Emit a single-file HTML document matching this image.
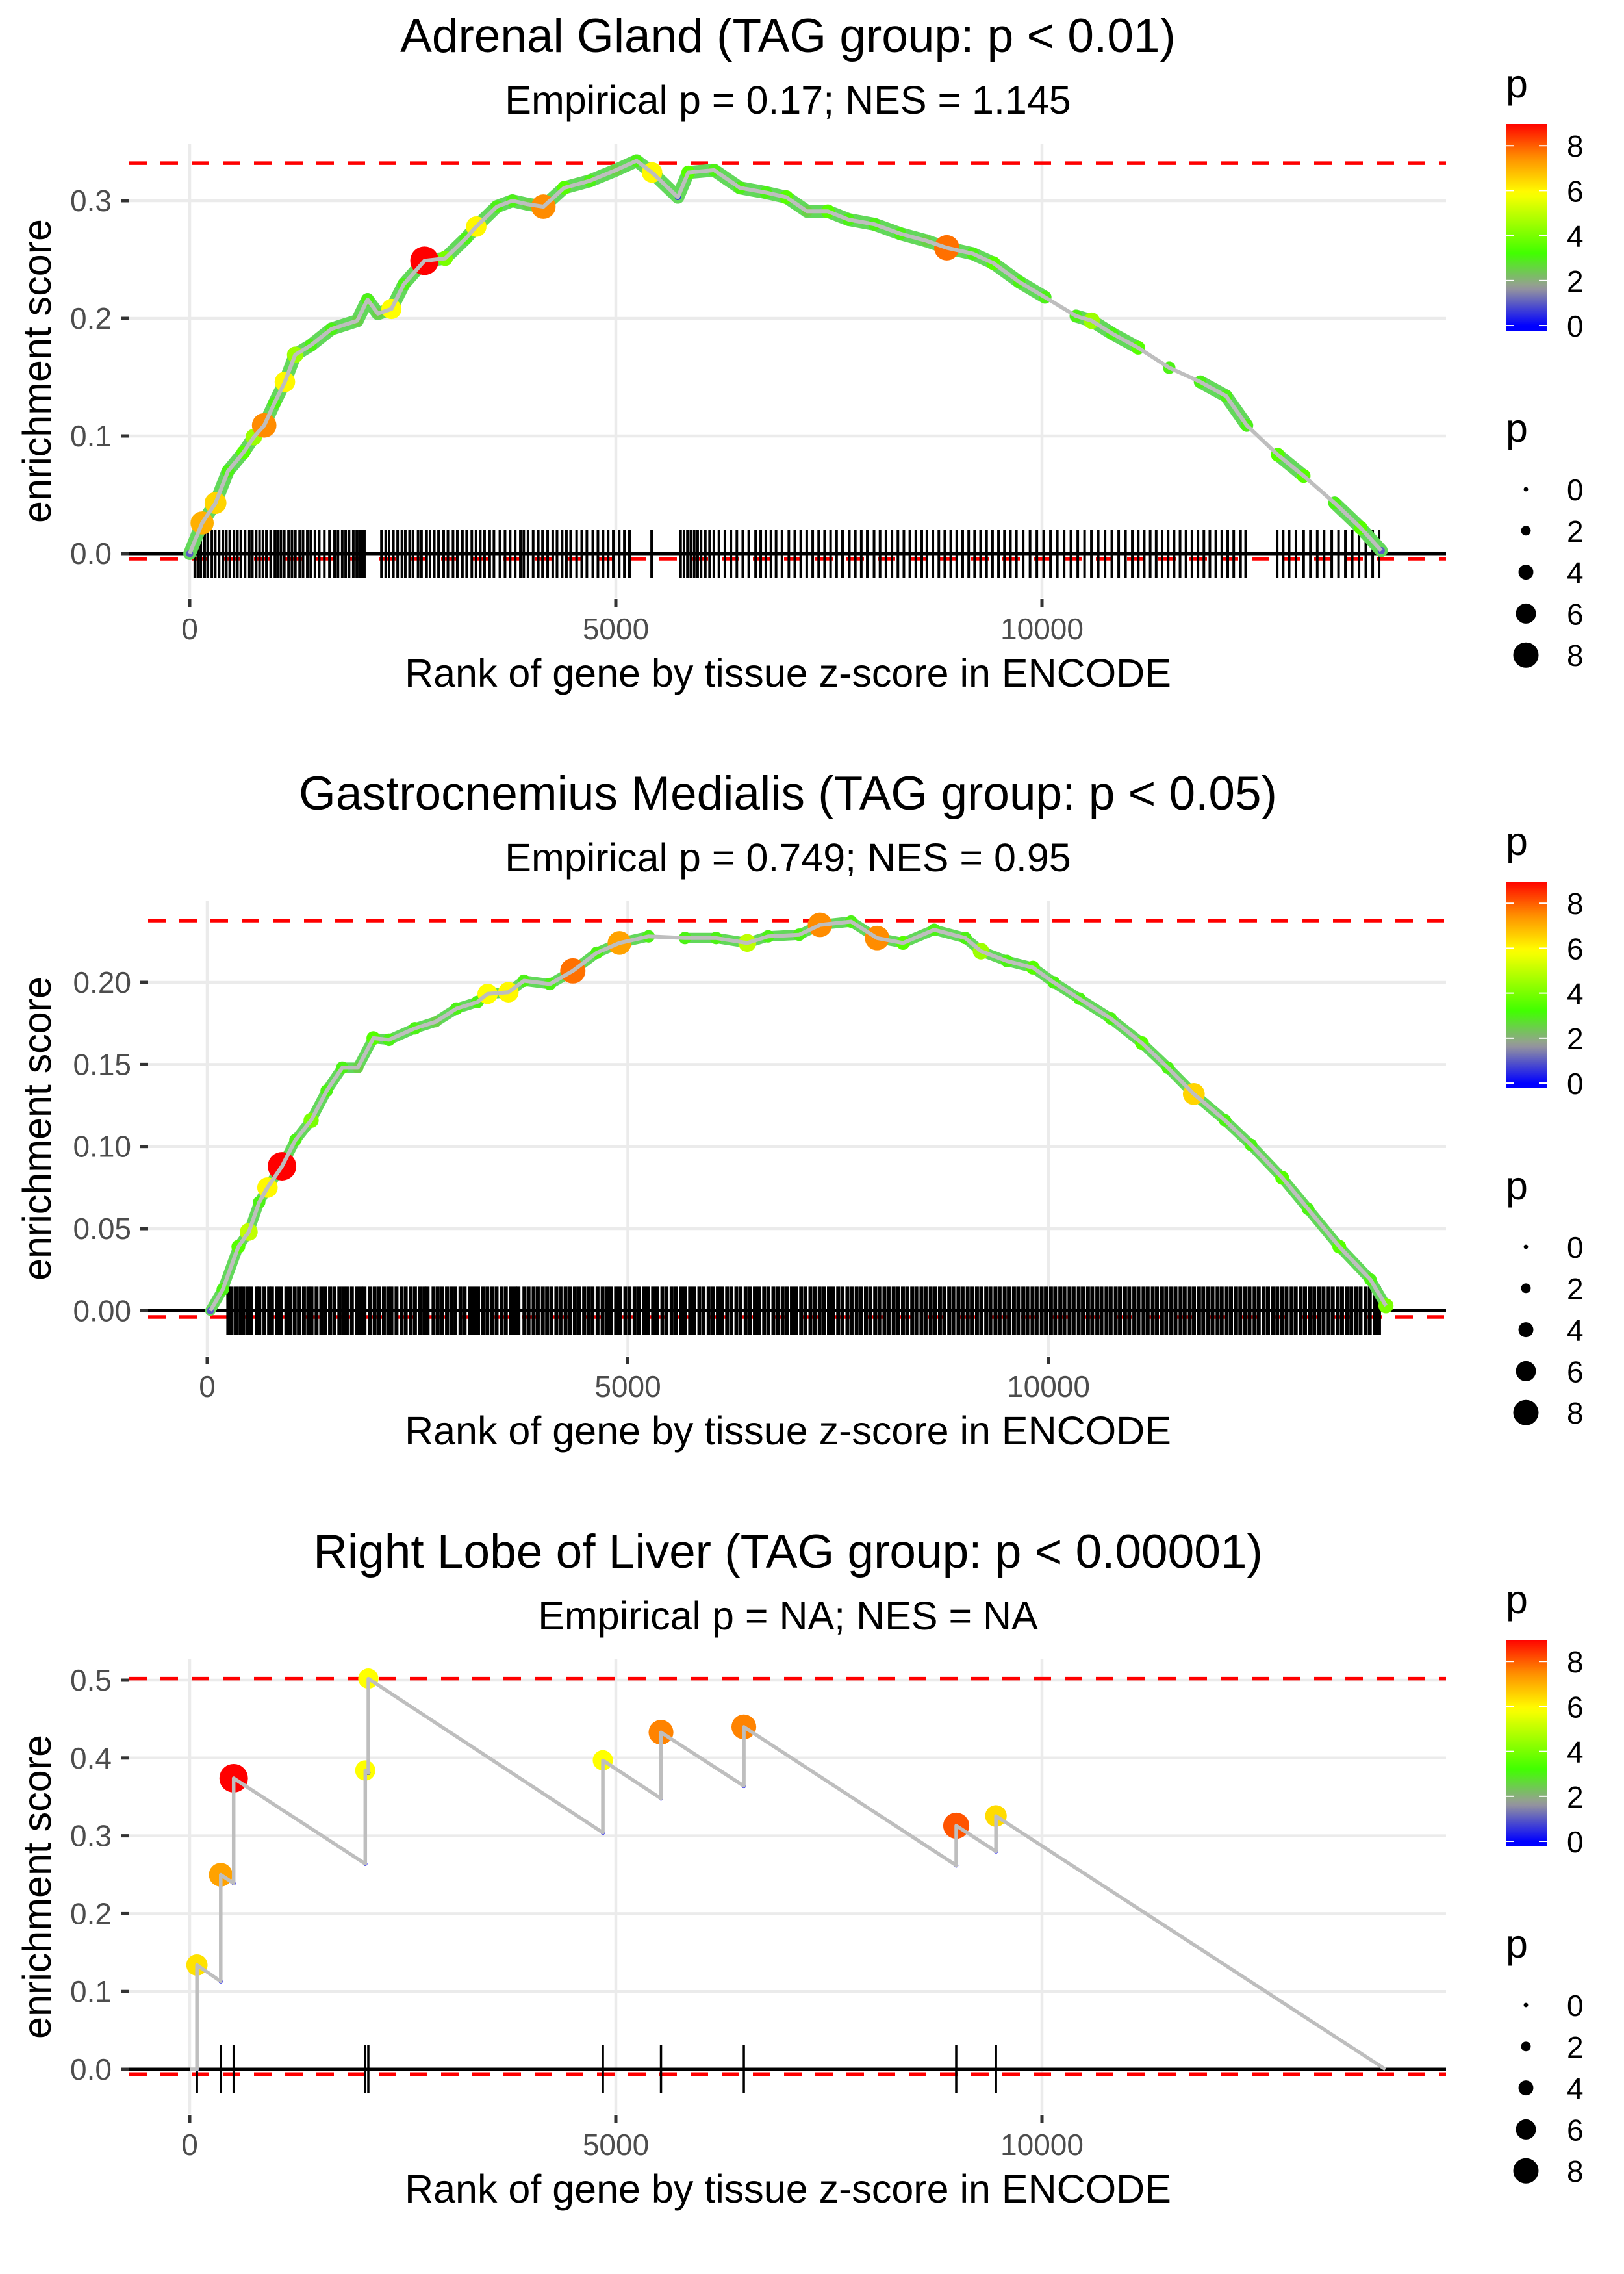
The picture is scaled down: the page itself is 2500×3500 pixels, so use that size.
<!DOCTYPE html>
<html>
<head>
<meta charset="utf-8">
<style>
  html, body { margin: 0; padding: 0; background: #ffffff; }
  svg { display: block; font-family: "Liberation Sans", Arial, sans-serif; }
</style>
</head>
<body>
<svg id="chart" xmlns="http://www.w3.org/2000/svg" width="2500" height="3500" viewBox="0 0 2500 3500">
  <defs>
    <linearGradient id="pgrad" x1="0" y1="0" x2="0" y2="1"></linearGradient>
  </defs>
  <rect x="0" y="0" width="2500" height="3500" fill="#ffffff"></rect>
</svg>
<script>
// ---------------- DATA ----------------
const titles = ["Adrenal Gland (TAG group: p < 0.01)", "Gastrocnemius Medialis (TAG group: p < 0.05)", "Right Lobe of Liver (TAG group: p < 0.00001)"];
const subtitles = ["Empirical p = 0.17; NES = 1.145", "Empirical p = 0.749; NES = 0.95", "Empirical p = NA; NES = NA"];
const xTickValues = [0, 5000, 10000];
const xTickLabels = ["0", "5000", "10000"];
const yTicks1 = [0, 0.1, 0.2, 0.3];
const yTickLabels1 = ["0.0", "0.1", "0.2", "0.3"];
const yTicks2 = [0, 0.05, 0.10, 0.15, 0.20];
const yTickLabels2 = ["0.00", "0.05", "0.10", "0.15", "0.20"];
const yTicks3 = [0, 0.1, 0.2, 0.3, 0.4, 0.5];
const yTickLabels3 = ["0.0", "0.1", "0.2", "0.3", "0.4", "0.5"];
const legendTicks = [0, 2, 4, 6, 8];
const legendTickLabels = ["0", "2", "4", "6", "8"];
const maxES = [0.332, 0.2376, 0.502];
const minES = [-0.0044, -0.0038, -0.006];

const ranks1 = [0,146,303,449,631,752,874,995,1117,1238,1420,1663,1966,2087,2209,2367,2512,2755,2998,3240,3362,3604,3786,3968,4150,4393,4697,5000,5243,5425,5728,5850,6153,6456,6760,7002,7245,7488,7731,8034,8337,8641,8883,9187,9430,9733,10036,10400,10583,10825,11129,11493,11857,12160,12403,12767,13070,13434,13738,13981];
const es1 = [0,0.026,0.043,0.070,0.086,0.099,0.109,0.128,0.146,0.169,0.177,0.191,0.198,0.216,0.204,0.208,0.229,0.249,0.251,0.268,0.278,0.295,0.300,0.297,0.295,0.311,0.317,0.326,0.334,0.324,0.303,0.324,0.326,0.311,0.307,0.303,0.291,0.291,0.284,0.280,0.272,0.266,0.260,0.255,0.247,0.231,0.218,0.202,0.198,0.187,0.175,0.158,0.146,0.134,0.109,0.084,0.066,0.043,0.022,0.0025];
const pv1 = [1,7,6.5,3,3.5,4.5,7.5,3,6,4.5,3,3,2.5,3,2.5,5.9,3,9,4,3,6,3,3,2.5,7.5,3.5,3,2.5,3,6,0.5,3.5,3,3,3,3.5,2.5,3.5,3,3,3,2.5,7.8,3,3.5,3,3,3,4.5,3,3.5,3,3,3,3,3.5,3.5,3,3.5,1];
const rug1 = [60,95,130,175,210,260,300,345,390,430,470,520,560,600,650,700,735,780,820,860,900,950,1000,1030,1070,1110,1160,1200,1240,1290,1330,1380,1420,1470,1520,1580,1640,1700,1740,1790,1830,1870,1920,1960,1990,2020,2050,2250,2300,2340,2390,2440,2490,2530,2580,2620,2680,2720,2780,2820,2870,2920,2980,3030,3090,3140,3200,3250,3310,3360,3410,3460,3520,3570,3640,3700,3760,3820,3880,3920,3970,4030,4090,4140,4200,4260,4310,4370,4420,4470,4540,4600,4660,4730,4790,4850,4910,4970,5040,5100,5160,5420,5760,5800,5840,5880,5920,5960,6000,6050,6100,6150,6210,6280,6350,6420,6490,6560,6640,6700,6760,6820,6880,6950,7030,7100,7170,7240,7310,7380,7450,7520,7590,7660,7740,7810,7880,7950,8030,8100,8170,8240,8310,8380,8450,8520,8590,8650,8720,8790,8860,8930,9000,9070,9140,9210,9280,9350,9420,9490,9560,9630,9700,9780,9860,9940,10020,10100,10180,10260,10340,10420,10500,10580,10660,10740,10820,10900,10980,11060,11130,11200,11270,11340,11410,11480,11550,11620,11690,11760,11830,11900,11970,12040,12110,12180,12250,12330,12390,12760,12830,12900,12980,13070,13150,13230,13310,13400,13480,13560,13640,13720,13800,13880,13956];

const ranks2 = [37,185,370,494,617,716,889,1049,1235,1420,1605,1790,1975,2160,2469,2716,2963,3210,3333,3580,3765,4074,4346,4630,4901,5247,5679,6049,6420,6667,7037,7284,7654,7963,8272,8642,9012,9198,9506,9815,10062,10370,10741,11111,11420,11728,12099,12407,12778,13086,13457,13827,14012];
const es2 = [0,0.013,0.039,0.048,0.066,0.075,0.088,0.104,0.116,0.134,0.148,0.148,0.166,0.165,0.172,0.176,0.184,0.188,0.193,0.194,0.201,0.199,0.207,0.218,0.224,0.228,0.227,0.227,0.224,0.228,0.229,0.235,0.237,0.227,0.224,0.232,0.227,0.219,0.213,0.209,0.200,0.190,0.178,0.163,0.148,0.132,0.116,0.101,0.081,0.062,0.039,0.019,0.003];
const pv2 = [1,3,3.5,5,3,6,9,3,4,3,3,2.5,3.5,3,3,2.5,3,3,5.9,6,3,3,7.8,3,7.2,3,3,3,5,3,3,7.5,3,7.5,3.5,3,3,4.5,3,3.5,3,3,3,3.5,3,6.5,3,3,3.5,3,3.5,3,4];
const rug2 = [250,290,340,395,430,480,525,590,620,680,735,770,830,880,940,985,1040,1090,1150,1200,1240,1300,1355,1400,1460,1510,1570,1615,1660,1720,1780,1830,1870,1935,1990,2040,2100,2150,2190,2250,2310,2360,2420,2470,2530,2580,2620,2690,2740,2790,2850,2900,2950,3010,3060,3120,3170,3220,3280,3330,3390,3440,3500,3550,3610,3660,3700,3770,3820,3880,3930,3990,4040,4090,4150,4200,4260,4310,4370,4420,4480,4530,4580,4640,4700,4750,4800,4860,4910,4970,5020,5080,5130,5190,5240,5300,5350,5410,5460,5520,5570,5630,5680,5740,5790,5850,5900,5960,6010,6070,6120,6180,6230,6290,6340,6400,6450,6510,6560,6620,6670,6730,6780,6840,6890,6950,7000,7060,7110,7170,7220,7280,7330,7390,7440,7500,7550,7610,7660,7720,7770,7830,7880,7940,7990,8050,8100,8160,8210,8270,8320,8380,8430,8490,8540,8600,8650,8710,8760,8820,8870,8930,8980,9040,9090,9150,9200,9260,9310,9370,9420,9480,9530,9590,9640,9700,9750,9810,9860,9920,9970,10030,10080,10140,10190,10250,10300,10360,10410,10470,10520,10580,10630,10690,10740,10800,10850,10910,10960,11020,11070,11130,11180,11240,11290,11350,11400,11460,11510,11570,11620,11680,11730,11790,11840,11900,11950,12010,12060,12120,12170,12230,12280,12340,12390,12450,12500,12560,12610,12670,12720,12780,12830,12890,12940,13000,13050,13110,13160,13220,13270,13330,13380,13440,13490,13550,13600,13660,13710,13770,13820,13880,13930];

const hitRanks3 = [85,364,516,2060,2096,4848,5530,6502,8994,9460];
const hitES3 = [0.134,0.250,0.374,0.384,0.502,0.397,0.433,0.440,0.313,0.3255];
const lowES3 = [0,0.113,0.239,0.264,0.381,0.304,0.348,0.364,0.262,0.280];
const pv3 = [6.3,7.2,9,5.9,5.9,5.9,7.6,7.6,8.1,6.4];
const endRank3 = 14030;

// ---------------- LAYOUT ----------------
const NS = "http://www.w3.org/2000/svg";
const svg = document.getElementById("chart");
const panels = [
  { top: 0,    left: 199, right: 2226, x0: 292, xs: 0.1312, y0: 852,   ys: 1810, tickRight: 172 },
  { top: 1166, left: 228, right: 2226, x0: 319, xs: 0.1295, y0: 851.4, ys: 2527, tickRight: 202 },
  { top: 2333, left: 199, right: 2226, x0: 292, xs: 0.1312, y0: 852,   ys: 1198, tickRight: 172 }
];
const PANEL_T = 221, PANEL_B = 921;

function el(tag, attrs, parent) {
  const e = document.createElementNS(NS, tag);
  for (const k in attrs) e.setAttribute(k, attrs[k]);
  (parent || svg).appendChild(e);
  return e;
}

const colorStops = [[0,[0,0,255]],[1.7,[154,154,154]],[3.2,[64,255,0]],[5.9,[255,255,0]],[7.5,[255,140,0]],[9,[255,0,0]]];
function colorOf(p) {
  if (p <= colorStops[0][0]) return "rgb(0,0,255)";
  for (let i = 1; i < colorStops.length; i++) {
    if (p <= colorStops[i][0]) {
      const a = colorStops[i-1], b = colorStops[i];
      const t = (p - a[0]) / (b[0] - a[0]);
      const c = a[1].map((v, j) => Math.round(v + (b[1][j] - v) * t));
      return "rgb(" + c.join(",") + ")";
    }
  }
  return "rgb(255,0,0)";
}
function sizeOf(p) { return 3.5 + 2.05 * p; }

const BAR_TOP_P = 8.96, BAR_BOT_P = -0.23;
const grad = document.getElementById("pgrad");
for (let k = 0; k <= 40; k++) {
  const p = BAR_TOP_P - (BAR_TOP_P - BAR_BOT_P) * k / 40;
  el("stop", { offset: (k / 40).toFixed(3), "stop-color": colorOf(p) }, grad);
}

function drawPanel(i, yTicks, yLabels) {
  const P = panels[i];
  const g = el("g", {});
  
  
  const X = r => P.x0 + r * P.xs;
  const Y = v => P.top + P.y0 - v * P.ys;
  const T = P.top;

  const t = el("text", { x: 1213, y: T + 80, "font-size": 73, "text-anchor": "middle", fill: "#000" }, g);
  t.textContent = titles[i];
  
  
  const st = el("text", { x: 1213, y: T + 175, "font-size": 61, "text-anchor": "middle", fill: "#000" }, g);
  st.textContent = subtitles[i];
  
  

  yTicks.forEach((v, k) => {
    const gl = el("line", { x1: P.left, x2: P.right, y1: Y(v), y2: Y(v), stroke: "#EBEBEB", "stroke-width": 4.5 }, g);
    
    
    const tk = el("line", { x1: P.left - 12, x2: P.left, y1: Y(v), y2: Y(v), stroke: "#333333", "stroke-width": 5 }, g);
    
    
    const tl = el("text", { x: P.tickRight, y: Y(v) + 16, "font-size": 46, "text-anchor": "end", fill: "#4D4D4D" }, g);
    tl.textContent = yLabels[k];
    
    
  });
  xTickValues.forEach((v, k) => {
    const gl = el("line", { x1: X(v), x2: X(v), y1: T + PANEL_T, y2: T + PANEL_B, stroke: "#EBEBEB", "stroke-width": 4.5 }, g);
    
    
    const tk = el("line", { x1: X(v), x2: X(v), y1: T + 922, y2: T + 934, stroke: "#333333", "stroke-width": 5 }, g);
    
    
    const tl = el("text", { x: X(v), y: T + 984, "font-size": 46, "text-anchor": "middle", fill: "#4D4D4D" }, g);
    tl.textContent = xTickLabels[k];
    
    
  });

  const xt = el("text", { x: 1213, y: T + 1057, "font-size": 61, "text-anchor": "middle", fill: "#000" }, g);
  xt.textContent = "Rank of gene by tissue z-score in ENCODE";
  
  
  const yt = el("text", { x: 0, y: 0, "font-size": 61, "text-anchor": "middle", fill: "#000", transform: "translate(78," + (T + 571) + ") rotate(-90)" }, g);
  yt.textContent = "enrichment score";
  
  

  [maxES[i], minES[i]].forEach(v => {
    const d = el("line", { x1: P.left, x2: P.right, y1: Y(v), y2: Y(v), stroke: "#FF0000", "stroke-width": 5.5, "stroke-dasharray": "27 21" }, g);
    
    
  });

  const zl = el("line", { x1: P.left, x2: P.right, y1: Y(0), y2: Y(0), stroke: "#000", "stroke-width": 5 }, g);
  
  

  return { g, X, Y, T };
}

function drawRug(ctx, ranks, w) {
  const rg = el("g", {}, ctx.g);
  
  
  ranks.forEach(r => {
    const ln = el("line", { x1: ctx.X(r), x2: ctx.X(r), y1: ctx.Y(0) - 37, y2: ctx.Y(0) + 37, stroke: "#000", "stroke-width": w }, rg);
    
    
  });
}

function drawCurve(ctx, ranks, es, pv, bandW, maxGap) {
  for (let k = 1; k < ranks.length; k++) {
    if (ranks[k] - ranks[k-1] < maxGap) {
      const b = el("line", { x1: ctx.X(ranks[k-1]), y1: ctx.Y(es[k-1]), x2: ctx.X(ranks[k]), y2: ctx.Y(es[k]), stroke: "#62D85A", "stroke-width": bandW, "stroke-linecap": "round" }, ctx.g);
      
      
    }
  }
  ranks.forEach((r, k) => {
    const c = el("circle", { cx: ctx.X(r), cy: ctx.Y(es[k]), r: sizeOf(pv[k]), fill: colorOf(pv[k]) }, ctx.g);
    
    
  });
  const pts = ranks.map((r, k) => ctx.X(r).toFixed(1) + "," + ctx.Y(es[k]).toFixed(1)).join(" ");
  const pl = el("polyline", { points: pts, fill: "none", stroke: "#BEBEBE", "stroke-width": 6, "stroke-linejoin": "round" }, ctx.g);
  
  
}

function drawLegend(T) {
  const lg = el("g", {});
  
  
  const ct = el("text", { x: 2318, y: T + 150, "font-size": 61, fill: "#000" }, lg);
  ct.textContent = "p";
  
  
  const bar = el("rect", { x: 2318, y: T + 191, width: 64, height: 318, fill: "url(#pgrad)" }, lg);
  
  
  const PY = p => T + 191 + (BAR_TOP_P - p) / (BAR_TOP_P - BAR_BOT_P) * 318;
  legendTicks.forEach((p, k) => {
    const a = el("line", { x1: 2318, x2: 2331, y1: PY(p), y2: PY(p), stroke: "#fff", "stroke-width": 2 }, lg);
    
    
    const b = el("line", { x1: 2369, x2: 2382, y1: PY(p), y2: PY(p), stroke: "#fff", "stroke-width": 2 }, lg);
    
    
    const tl = el("text", { x: 2412, y: PY(p) + 17, "font-size": 46, fill: "#000" }, lg);
    tl.textContent = legendTickLabels[k];
    
    
  });
  const stt = el("text", { x: 2318, y: T + 680, "font-size": 61, fill: "#000" }, lg);
  stt.textContent = "p";
  
  
  legendTicks.forEach((p, k) => {
    const cy = T + 753 + k * 63.8;
    const c = el("circle", { cx: 2349, cy: cy, r: sizeOf(p) * 0.98, fill: "#000" }, lg);
    
    
    const tl = el("text", { x: 2412, y: cy + 17, "font-size": 46, fill: "#000" }, lg);
    tl.textContent = legendTickLabels[k];
    
    
  });
}

// ---------------- DRAW ----------------
const c1 = drawPanel(0, yTicks1, yTickLabels1);
drawRug(c1, rug1, 4);
drawCurve(c1, ranks1, es1, pv1, 20, 350);

const c2 = drawPanel(1, yTicks2, yTickLabels2);
drawRug(c2, rug2, 6);
drawCurve(c2, ranks2, es2, pv2, 16, 400);

const c3 = drawPanel(2, yTicks3, yTickLabels3);
drawRug(c3, hitRanks3, 3.5);
let d3 = "M" + c3.X(0).toFixed(1) + "," + c3.Y(0).toFixed(1);
hitRanks3.forEach((r, k) => {
  d3 += " L" + c3.X(r).toFixed(1) + "," + c3.Y(lowES3[k]).toFixed(1);
  d3 += " L" + c3.X(r).toFixed(1) + "," + c3.Y(hitES3[k]).toFixed(1);
});
d3 += " L" + c3.X(endRank3).toFixed(1) + "," + c3.Y(0).toFixed(1);
hitRanks3.forEach((r, k) => {
  const c = el("circle", { cx: c3.X(r), cy: c3.Y(hitES3[k]), r: sizeOf(pv3[k]), fill: colorOf(pv3[k]) }, c3.g);
  
  
  const lo = el("circle", { cx: c3.X(r), cy: c3.Y(lowES3[k]), r: 2.5, fill: "none", stroke: "#0000FF", "stroke-width": 1.5 }, c3.g);
  
  
});
const p3 = el("path", { d: d3, fill: "none", stroke: "#BEBEBE", "stroke-width": 5.5, "stroke-linejoin": "round" }, c3.g);



panels.forEach(P => drawLegend(P.top));
</script>
</body>
</html>
